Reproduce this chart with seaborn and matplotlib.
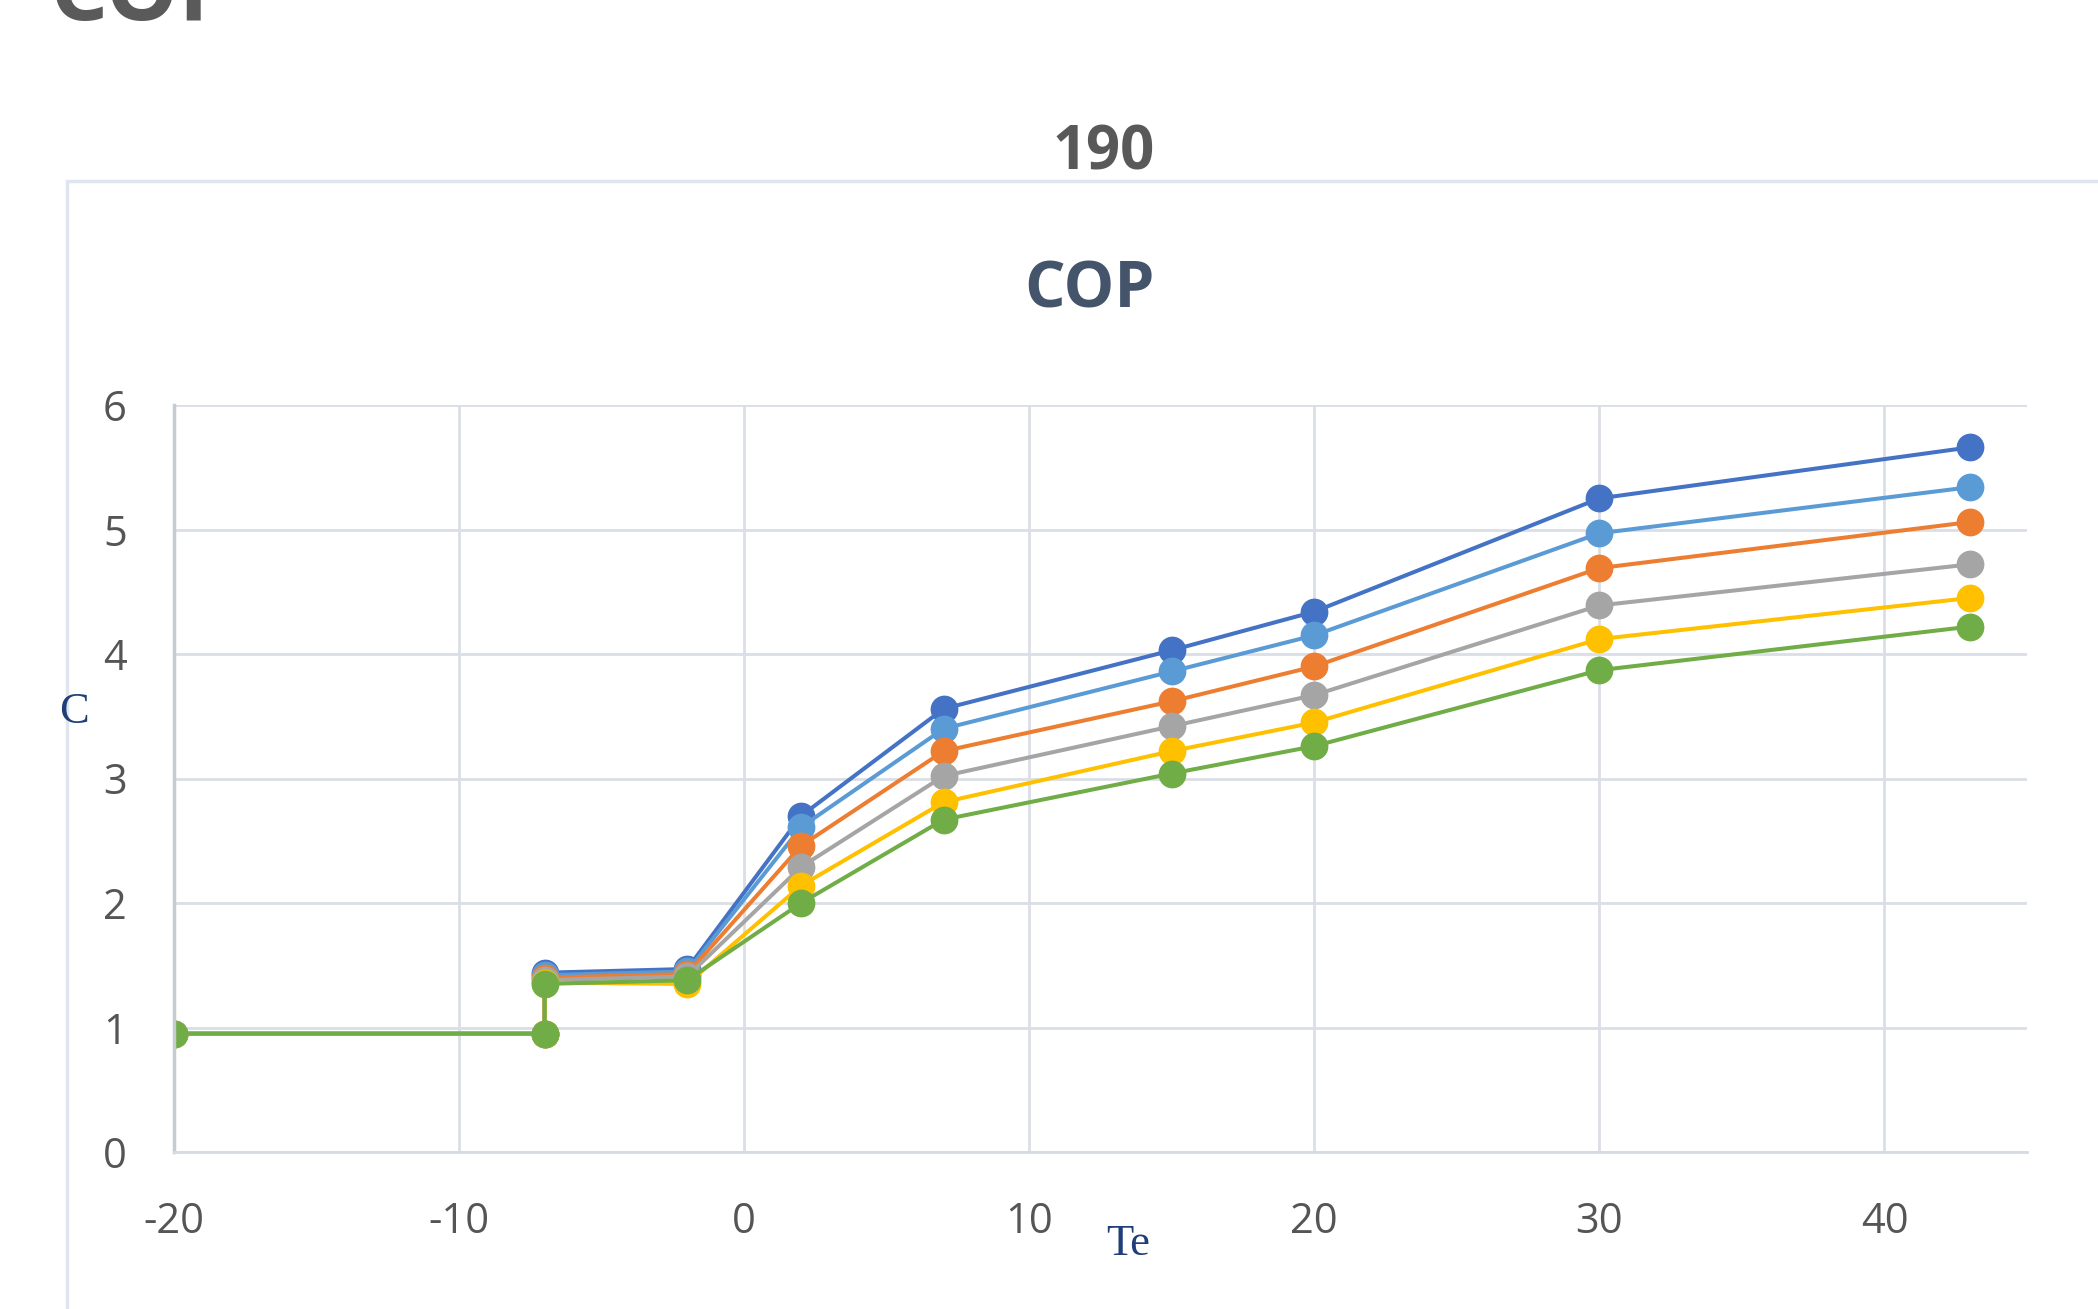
import pandas as pd
import matplotlib.pyplot as plt
import seaborn as sns
from matplotlib.patches import Rectangle

# evaporating temperature Te (the -7 appears twice: the step up from the flat start)
te = [-20, -7, -7, -2, 2, 7, 15, 20, 30, 43]

series_names = ["s1", "s2", "s3", "s4", "s5", "s6"]
cop_s1 = [0.95, 0.95, 1.44, 1.47, 2.70, 3.56, 4.03, 4.34, 5.25, 5.66]
cop_s2 = [0.95, 0.95, 1.42, 1.45, 2.61, 3.40, 3.86, 4.15, 4.97, 5.34]
cop_s3 = [0.95, 0.95, 1.40, 1.43, 2.46, 3.22, 3.62, 3.90, 4.69, 5.06]
cop_s4 = [0.95, 0.95, 1.38, 1.41, 2.29, 3.02, 3.42, 3.67, 4.39, 4.72]
cop_s5 = [0.95, 0.95, 1.36, 1.35, 2.14, 2.81, 3.22, 3.45, 4.12, 4.45]
cop_s6 = [0.95, 0.95, 1.35, 1.38, 2.00, 2.67, 3.04, 3.26, 3.87, 4.22]

colors = ["#4472C4", "#5B9BD5", "#ED7D31", "#A5A5A5", "#FFC000", "#70AD47"]

rows = []
for name, vals in zip(series_names, [cop_s1, cop_s2, cop_s3, cop_s4, cop_s5, cop_s6]):
    for x, y in zip(te, vals):
        rows.append({"series": name, "Te": x, "COP": y})
df = pd.DataFrame(rows)

sns.set_style("white")
plt.rcParams['font.family'] = ['Open Sans', 'DejaVu Sans']
plt.rcParams['axes.unicode_minus'] = False

fig = plt.figure(figsize=(20.98, 13.09), dpi=100)

# chart frame (cut off on the right / bottom like the screenshot)
fig.patches.append(Rectangle((67 / 2098, -0.1), 1.0, 1 - 181 / 1309 + 0.1,
                             transform=fig.transFigure, fill=False,
                             edgecolor="#dfe6ef", linewidth=2.5, zorder=0))

ax = fig.add_axes([174 / 2098, 1 - 1152 / 1309, (2027 - 174) / 2098, (1152 - 405) / 1309])

sns.lineplot(data=df, x="Te", y="COP", hue="series", palette=colors,
             estimator=None, sort=False,
             marker="o", markersize=20, markeredgewidth=0, linewidth=2.9,
             legend=False, ax=ax)

ax.set_xlim(-20, 45)
ax.set_ylim(0, 6)
ax.set_xticks([-20, -10, 0, 10, 20, 30, 40])
ax.set_yticks([0, 1, 2, 3, 4, 5, 6])
ax.grid(True, color="#dadee6", linewidth=2)
ax.set_axisbelow(True)
for s in ["top", "right"]:
    ax.spines[s].set_visible(False)
ax.spines["left"].set_color("#c6cad2")
ax.spines["left"].set_linewidth(2.5)
ax.spines["bottom"].set_color("#d6dae2")
ax.spines["bottom"].set_linewidth(2)
ax.tick_params(axis="both", length=0, labelsize=30, colors="#555555")
ax.tick_params(axis="x", pad=35)
ax.tick_params(axis="y", pad=34)
ax.set_xlabel("")
ax.set_ylabel("")

# axis titles in serif blue
fig.text(74 / 2098, 1 - 712 / 1309, "C", fontsize=32, color="#1F3E7A",
         family="Liberation Serif", ha="center", va="center")
fig.text(1128 / 2098, 1 - 1244 / 1309, "Te", fontsize=32, color="#1F3E7A",
         family="Liberation Serif", ha="center", va="center")

# titles
fig.text(1090 / 2098, 1 - 291 / 1309, "COP", fontsize=46, fontweight="bold",
         color="#44546A", ha="center", va="center")
fig.text(1104 / 2098, 1 - 154 / 1309, "190", fontsize=43, fontweight="bold",
         color="#595959", ha="center", va="center")
fig.text(50 / 2098, 1 - 20 / 1309, "COP", fontsize=66, fontweight="bold",
         color="#5a5a5a", ha="left", va="baseline")

fig.savefig("out.png", dpi=100, facecolor="white")
